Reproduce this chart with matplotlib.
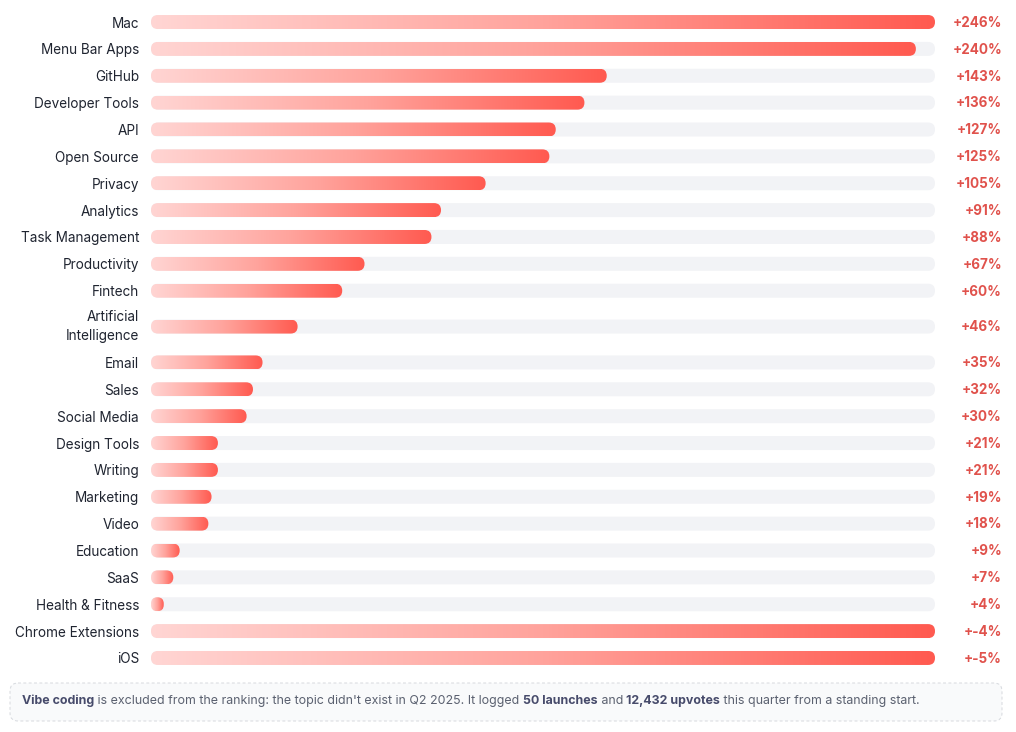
import matplotlib.pyplot as plt
import numpy as np
from matplotlib.patches import FancyBboxPatch
from matplotlib.colors import LinearSegmentedColormap
from matplotlib.transforms import blended_transform_factory

plt.rcParams['font.family'] = ['Inter', 'DejaVu Sans']

topics = ['Mac', 'Menu Bar Apps', 'GitHub', 'Developer Tools', 'API', 'Open Source',
          'Privacy', 'Analytics', 'Task Management', 'Productivity', 'Fintech',
          'Artificial\nIntelligence', 'Email', 'Sales', 'Social Media', 'Design Tools',
          'Writing', 'Marketing', 'Video', 'Education', 'SaaS', 'Health & Fitness',
          'Chrome Extensions', 'iOS']
growth = [246, 240, 143, 136, 127, 125, 105, 91, 88, 67, 60, 46, 35, 32, 30, 21,
          21, 19, 18, 9, 7, 4, -4, -5]

note_parts = [("Vibe coding", True),
              (" is excluded from the ranking: the topic didn't exist in Q2 2025. It logged ", False),
              ("50 launches", True),
              (" and ", False),
              ("12,432 upvotes", True),
              (" this quarter from a standing start.", False)]

W, H = 1016, 732
BAR_PX = 14
RADIUS_PX = 7
grad = LinearSegmentedColormap.from_list('bar', ['#ffd5d3', '#ffa39c', '#ff5a50'])

# row positions, two-line labels take a taller row
extra = 0.67
ys = []
y = 0.0
for i, t in enumerate(topics):
    if i > 0:
        y += 1 + (extra / 2 if '\n' in topics[i - 1] else 0) + (extra / 2 if '\n' in t else 0)
    ys.append(y)

fig = plt.figure(figsize=(W / 100, H / 100), dpi=100)
fig.patch.set_facecolor('white')
ax = fig.add_axes([151 / W, 1 - 671.4 / H, 784 / W, (671.4 - 8.6) / H])
max_v = max(growth)
xlim = (0, max_v)
ylim = (ys[-1] + 0.5, -0.5)
ax.set_xlim(xlim)
ax.set_ylim(ylim)

# pixel sizes of one data unit
px_x = 784 / max_v
px_y = (671.4 - 8.6) / (ylim[0] - ylim[1])
bar_h = BAR_PX / px_y
aspect = px_x / px_y


def pill(x0, w, yc, **kw):
    r = min(RADIUS_PX, w * px_x / 2) / px_x
    p = FancyBboxPatch((x0, yc - bar_h / 2), w, bar_h,
                       boxstyle=f"round,pad=0,rounding_size={r}",
                       mutation_aspect=aspect, linewidth=0, **kw)
    ax.add_patch(p)
    return p


gradient = np.linspace(0, 1, 256).reshape(1, -1)
for yc, v in zip(ys, growth):
    pill(0, max_v, yc, facecolor='#f2f3f6', zorder=1)
    w = v if v > 0 else max_v
    clip = pill(0, w, yc, facecolor='none', edgecolor='none', zorder=2)
    im = ax.imshow(gradient, cmap=grad, extent=(0, w, yc + bar_h / 2, yc - bar_h / 2),
                   aspect='auto', interpolation='bicubic', zorder=2)
    im.set_clip_path(clip)

ax.set_xlim(xlim)
ax.set_ylim(ylim)
ax.set_yticks(ys, topics)
for lab in ax.get_yticklabels():
    lab.set_fontsize(9.75)
    lab.set_color('#1f2430')
    if '\n' in lab.get_text():
        lab.set_linespacing(1.5)
        lab.set_va('center')
ax.set_xticks([])
ax.tick_params(axis='y', length=0, pad=8.6)
for s in ax.spines.values():
    s.set_visible(False)

trans = blended_transform_factory(fig.transFigure, ax.transData)
for yc, v in zip(ys, growth):
    ax.text(1002 / W, yc + 0.03, f"+{v}%", transform=trans, ha='right', va='center',
            fontsize=9.7, fontweight='bold', color='#e0524c')

# note box at the bottom
nax = fig.add_axes([0, 0, 1, 1], zorder=-1)
nax.set_xlim(0, W)
nax.set_ylim(H, 0)
nax.axis('off')
box = FancyBboxPatch((10, 683), 992, 38, boxstyle="round,pad=0,rounding_size=8",
                     facecolor='#f9fafb', edgecolor='#d6d9de', linewidth=0.7,
                     linestyle=(0, (3, 2.5)))
nax.add_patch(box)

prev = None
for txt, bold in note_parts:
    kw = dict(fontsize=8.95, color='#474b6b' if bold else '#5b6170',
              fontweight='bold' if bold else 'normal')
    if prev is None:
        prev = nax.text(22, 701, txt, ha='left', va='center', **kw)
    else:
        prev = nax.annotate(txt, xy=(1, 0), xycoords=prev, ha='left', va='bottom', **kw)

fig.savefig('out.png', dpi=100, facecolor='white')
